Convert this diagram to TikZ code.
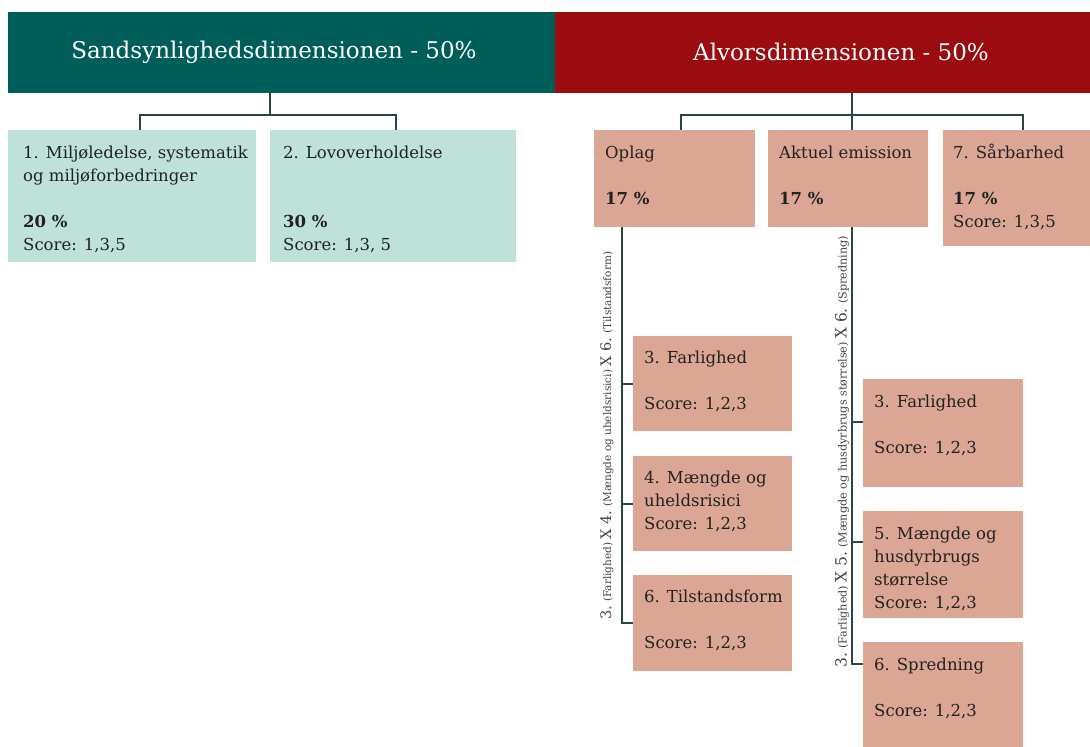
\documentclass[tikz,border=0pt]{standalone}
\usepackage{fontspec}
\setmainfont{DejaVu Serif}
\definecolor{hgreen}{HTML}{005E5A}
\definecolor{hred}{HTML}{9B0C10}
\definecolor{lteal}{HTML}{BEE2DA}
\definecolor{salmon}{HTML}{DCA694}
\definecolor{connc}{HTML}{27483F}
\definecolor{ink}{HTML}{222222}
\tikzset{
  headbox/.style={inner sep=0pt, anchor=north west},
  headtext/.style={inner sep=0pt, text=white, font=\fontsize{23}{27}\selectfont},
  tealbox/.style={fill=lteal, inner sep=0pt, anchor=north west},
  salbox/.style={fill=salmon, inner sep=0pt, anchor=north west},
  boxtext/.style={anchor=base west, inner sep=0pt, text=ink, font=\fontsize{16.5}{23}\selectfont},
  connline/.style={draw=connc, line width=2pt},
  vlabel/.style={rotate=90, anchor=west, inner sep=0pt, text=ink!85},
}
\newcommand{\lbig}[1]{{\fontsize{14.5}{14}\selectfont #1}}
\newcommand{\lsmall}[1]{{\fontsize{10.5}{10}\selectfont #1}}
\newcommand{\rbig}[1]{{\fontsize{15.5}{14}\selectfont #1}}
\newcommand{\rsmall}[1]{{\fontsize{11.2}{10}\selectfont #1}}
\begin{document}
\begin{tikzpicture}[x=1pt,y=-1pt]
\useasboundingbox (0,0) rectangle (1090,747);
\fill[white] (0,0) rectangle (1090,747);

% headers
\node[headbox, fill=hgreen, minimum width=547, minimum height=81] (hg) at (8,12) {};
\node[headbox, fill=hred, minimum width=535, minimum height=81] (hr) at (555,12) {};
\node[headtext] (hgt) at (274,52) {Sandsynlighedsdimensionen - 50\%};
\node[headtext] (hrt) at (841,52) {Alvorsdimensionen - 50\%};

% left boxes
\node[tealbox, minimum width=248, minimum height=132] (b1) at (8,130) {};
\node[tealbox, minimum width=246, minimum height=132] (b2) at (270,130) {};
\node[boxtext] (b1t) at ([shift={(15,28)}]b1.north west) {\parbox[t]{236pt}{\raggedright 1. Miljøledelse, systematik\\ og miljøforbedringer\\[23pt] \textbf{20 \%}\\ Score: 1,3,5}};
\node[boxtext] (b2t) at ([shift={(13,28)}]b2.north west) {\parbox[t]{230pt}{\raggedright 2. Lovoverholdelse\\[46pt] \textbf{30 \%}\\ Score: 1,3, 5}};

% right top boxes
\node[salbox, minimum width=161, minimum height=97] (op) at (594,130) {};
\node[salbox, minimum width=160, minimum height=97] (ak) at (768,130) {};
\node[salbox, minimum width=147, minimum height=116] (sa) at (943,130) {};
\node[boxtext] (opt) at ([shift={(11,28)}]op.north west) {\parbox[t]{150pt}{\raggedright Oplag\\[23pt] \textbf{17 \%}}};
\node[boxtext] (akt) at ([shift={(11,28)}]ak.north west) {\parbox[t]{150pt}{\raggedright Aktuel emission\\[23pt] \textbf{17 \%}}};
\node[boxtext] (sat) at ([shift={(10,28)}]sa.north west) {\parbox[t]{140pt}{\raggedright 7. Sårbarhed\\[23pt] \textbf{17 \%}\\ Score: 1,3,5}};

% left column
\node[salbox, minimum width=159, minimum height=95] (l1) at (633,336) {};
\node[salbox, minimum width=159, minimum height=95] (l2) at (633,456) {};
\node[salbox, minimum width=159, minimum height=96] (l3) at (633,575) {};
\node[boxtext] (l1t) at ([shift={(11,27)}]l1.north west) {\parbox[t]{150pt}{\raggedright 3. Farlighed\\[23pt] Score: 1,2,3}};
\node[boxtext] (l2t) at ([shift={(11,27)}]l2.north west) {\parbox[t]{150pt}{\raggedright 4. Mængde og\\ uheldsrisici\\ Score: 1,2,3}};
\node[boxtext] (l3t) at ([shift={(11,27)}]l3.north west) {\parbox[t]{150pt}{\raggedright 6. Tilstandsform\\[23pt] Score: 1,2,3}};

% right column
\node[salbox, minimum width=160, minimum height=108] (r1) at (863,379) {};
\node[salbox, minimum width=160, minimum height=107] (r2) at (863,511) {};
\node[salbox, minimum width=160, minimum height=105] (r3) at (863,642) {};
\node[boxtext] (r1t) at ([shift={(11,28)}]r1.north west) {\parbox[t]{150pt}{\raggedright 3. Farlighed\\[23pt] Score: 1,2,3}};
\node[boxtext] (r2t) at ([shift={(11,28)}]r2.north west) {\parbox[t]{150pt}{\raggedright 5. Mængde og\\ husdyrbrugs\\ størrelse\\ Score: 1,2,3}};
\node[boxtext] (r3t) at ([shift={(11,28)}]r3.north west) {\parbox[t]{150pt}{\raggedright 6. Spredning\\[23pt] Score: 1,2,3}};

% connectors (top)
\coordinate (gj) at (270,115);
\draw[connline] (hg.south -| gj) -- (gj);
\draw[connline] ([xshift=8pt]b1.north) |- (gj) -| ([xshift=3pt]b2.north);
\coordinate (rj) at (852,115);
\draw[connline] (hr.south -| rj) -- (rj) -- (ak.north -| rj);
\draw[connline] ([xshift=6.5pt]op.north) |- (rj) -| ([xshift=6.5pt]sa.north);

% left stem
\coordinate (ls) at (622,0);
\draw[connline] (op.south -| ls) |- (l3.west);
\draw[connline] (l1.west -| ls) -- (l1.west);
\draw[connline] (l2.west -| ls) -- (l2.west);

% right stem
\coordinate (rs) at (852,0);
\coordinate (r1k) at ([shift={(0,43)}]r1.north west);
\coordinate (r2k) at ([shift={(0,31)}]r2.north west);
\coordinate (r3k) at ([shift={(0,22)}]r3.north west);
\draw[connline] (ak.south -| rs) |- (r3k);
\draw[connline] (r1k -| rs) -- (r1k);
\draw[connline] (r2k -| rs) -- (r2k);

% rotated labels
\node[vlabel] (llab) at (607,620) {\lbig{3.} \lsmall{(Farlighed)} \lbig{X 4.} \lsmall{(Mængde og uheldsrisici)} \lbig{X 6.} \lsmall{(Tilstandsform)}};
\node[vlabel] (rlab) at (842,668) {\rbig{3.} \rsmall{(Farlighed)} \rbig{X 5.} \rsmall{(Mængde og husdyrbrugs størrelse)} \rbig{X 6.} \rsmall{(Spredning)}};
\end{tikzpicture}
\end{document}
